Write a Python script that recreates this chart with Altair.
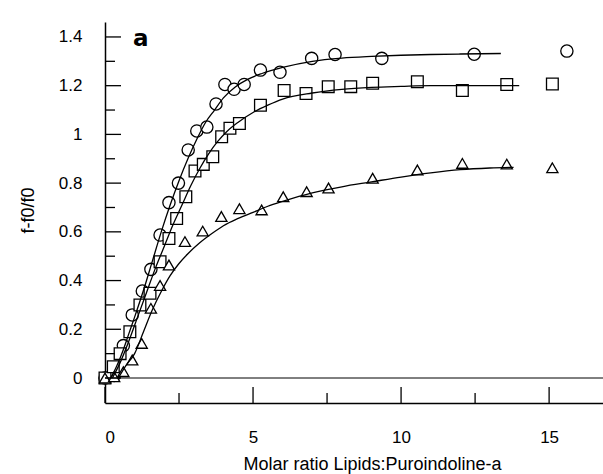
import altair as alt
import pandas as pd

# ---- data ----
circ_x = [0.0, 0.31, 0.62, 0.92, 1.26, 1.55, 1.86, 2.16, 2.48, 2.81, 3.10, 3.44, 3.75, 4.05, 4.36, 4.70, 5.25, 5.91, 6.98, 7.77, 9.35, 12.47, 15.6]
circ_y = [0.0, 0.01, 0.133, 0.259, 0.357, 0.446, 0.587, 0.72, 0.80, 0.936, 1.014, 1.03, 1.125, 1.205, 1.185, 1.205, 1.264, 1.255, 1.312, 1.328, 1.312, 1.329, 1.342]

sq_x = [0.0, 0.28, 0.51, 0.84, 1.18, 1.52, 1.86, 2.16, 2.42, 2.73, 3.04, 3.32, 3.64, 3.94, 4.22, 4.54, 5.25, 6.05, 6.79, 7.54, 8.30, 9.04, 10.55, 12.07, 13.57, 15.11]
sq_y = [0.0, 0.046, 0.10, 0.19, 0.30, 0.348, 0.477, 0.573, 0.655, 0.744, 0.85, 0.877, 0.908, 0.99, 1.025, 1.045, 1.12, 1.18, 1.168, 1.196, 1.196, 1.21, 1.216, 1.18, 1.205, 1.207]

tri_x = [0.0, 0.31, 0.62, 0.92, 1.24, 1.55, 1.86, 2.16, 2.70, 3.30, 3.93, 4.54, 5.29, 6.02, 6.81, 7.55, 9.04, 10.55, 12.07, 13.57, 15.11]
tri_y = [0.0, 0.005, 0.026, 0.074, 0.142, 0.286, 0.38, 0.464, 0.56, 0.603, 0.663, 0.695, 0.69, 0.744, 0.765, 0.78, 0.82, 0.854, 0.881, 0.878, 0.863]

# fitted curves
fit_c_x = [0.2, 0.4, 0.6, 0.8, 1.0, 1.3, 1.6, 1.9, 2.2, 2.5, 2.8, 3.1, 3.4, 3.7, 4.0, 4.4, 4.8, 5.3, 6.0, 7.0, 8.0, 9.0, 10.0, 11.0, 12.0, 13.37]
fit_c_y = [0.0, 0.05, 0.11, 0.18, 0.25, 0.36, 0.48, 0.60, 0.71, 0.81, 0.90, 0.98, 1.05, 1.10, 1.15, 1.195, 1.225, 1.25, 1.275, 1.30, 1.313, 1.32, 1.325, 1.328, 1.33, 1.332]
fit_s_x = [0.25, 0.5, 0.8, 1.1, 1.4, 1.7, 2.0, 2.3, 2.6, 2.9, 3.2, 3.5, 3.8, 4.1, 4.5, 5.0, 5.5, 6.0, 7.0, 8.0, 9.0, 10.0, 11.0, 12.0, 13.0, 13.99]
fit_s_y = [0.0, 0.06, 0.15, 0.25, 0.35, 0.45, 0.54, 0.63, 0.71, 0.79, 0.86, 0.92, 0.97, 1.01, 1.05, 1.09, 1.12, 1.145, 1.17, 1.185, 1.193, 1.197, 1.2, 1.2, 1.2, 1.2]
fit_t_x = [0.45, 0.7, 1.0, 1.3, 1.6, 1.9, 2.2, 2.5, 2.8, 3.2, 3.6, 4.0, 4.5, 5.0, 5.5, 6.0, 7.0, 8.0, 9.0, 10.0, 11.0, 12.0, 13.0, 13.8]
fit_t_y = [0.0, 0.05, 0.10, 0.19, 0.28, 0.355, 0.42, 0.47, 0.51, 0.555, 0.592, 0.625, 0.655, 0.68, 0.705, 0.725, 0.76, 0.785, 0.805, 0.825, 0.842, 0.855, 0.862, 0.865]

x_major = [0, 5, 10, 15]
x_minor = [2.5, 7.5, 12.5]
y_major = [0, 0.2, 0.4, 0.6, 0.8, 1.0, 1.2, 1.4]
y_minor = [0.1, 0.3, 0.5, 0.7, 0.9, 1.1, 1.3]

# ---- tables ----
pts = pd.concat([
    pd.DataFrame({"x": circ_x, "y": circ_y, "s": "c"}),
    pd.DataFrame({"x": sq_x, "y": sq_y, "s": "s"}),
    pd.DataFrame({"x": tri_x, "y": tri_y, "s": "t"}),
], ignore_index=True)
fits = pd.concat([
    pd.DataFrame({"x": fit_c_x, "y": fit_c_y, "s": "c"}),
    pd.DataFrame({"x": fit_s_x, "y": fit_s_y, "s": "s"}),
    pd.DataFrame({"x": fit_t_x, "y": fit_t_y, "s": "t"}),
], ignore_index=True)

W, H = 498, 381
FONT = "Liberation Sans"
XT = "Molar ratio Lipids:Puroindoline-a"
YT = "f-f0/f0"
xs = alt.Scale(domain=[0, 16.82], nice=False, zero=False)
ys = alt.Scale(domain=[-0.1026, 1.4614], nice=False, zero=False)

x_axis = alt.Axis(
    values=x_major, format="d", ticks=False, tickSize=0, grid=False,
    domainColor="black", domainWidth=1.5,
    labelFont=FONT, labelFontSize=17, labelColor="black", labelPadding=26,
    titleFont=FONT, titleFontSize=18, titleFontWeight="normal", titleColor="black",
    titleBaseline="alphabetic", titleAlign="center", titleX=267, titleY=66,
)
y_axis = alt.Axis(
    values=y_major, format=".1~f", ticks=False, tickSize=0, grid=False,
    domainColor="black", domainWidth=1.5,
    labelFont=FONT, labelFontSize=17, labelColor="black", labelPadding=23,
    titleFont=FONT, titleFontSize=18, titleFontWeight="normal", titleColor="black",
    titleAngle=-90, titleX=-77, titleY=188, titleAlign="center", titleBaseline="middle",
)

points = alt.Chart(pts).mark_point(filled=True, fill="white", stroke="black", strokeWidth=1.3, opacity=1).encode(
    x=alt.X("x:Q", scale=xs, axis=x_axis, title=XT),
    y=alt.Y("y:Q", scale=ys, axis=y_axis, title=YT),
    shape=alt.Shape("s:N", scale=alt.Scale(domain=["c", "s", "t"], range=["circle", "square", "triangle-up"]), legend=None),
    size=alt.Size("s:N", scale=alt.Scale(domain=["c", "s", "t"], range=[150, 125, 155]), legend=None),
)

lines = alt.Chart(fits).mark_line(color="black", strokeWidth=1.3, interpolate="monotone").encode(
    x=alt.X("x:Q", scale=xs, title=XT),
    y=alt.Y("y:Q", scale=ys, title=YT),
    detail="s:N",
)

zero_line = alt.Chart(pd.DataFrame({"y": [0]})).mark_rule(color="black", strokeWidth=1).encode(
    y=alt.Y("y:Q", scale=ys, title=YT)
)

xt_major = alt.Chart(pd.DataFrame({"x": x_major})).mark_rule(color="black", strokeWidth=1.3).encode(
    x=alt.X("x:Q", scale=xs, title=XT), y=alt.value(H), y2=alt.value(H - 16))
xt_minor = alt.Chart(pd.DataFrame({"x": x_minor})).mark_rule(color="black", strokeWidth=1.3).encode(
    x=alt.X("x:Q", scale=xs, title=XT), y=alt.value(H), y2=alt.value(H - 10))
yt_major = alt.Chart(pd.DataFrame({"y": y_major})).mark_rule(color="black", strokeWidth=1.3).encode(
    y=alt.Y("y:Q", scale=ys, title=YT), x=alt.value(0), x2=alt.value(16))
yt_minor = alt.Chart(pd.DataFrame({"y": y_minor})).mark_rule(color="black", strokeWidth=1.3).encode(
    y=alt.Y("y:Q", scale=ys, title=YT), x=alt.value(0), x2=alt.value(10))

panel = alt.Chart(pd.DataFrame({"t": ["a"]})).mark_text(
    font="DejaVu Sans", fontSize=23, fontWeight="bold", align="left", baseline="middle", color="black"
).encode(text="t:N", x=alt.value(28), y=alt.value(17))

chart = alt.layer(points, zero_line, lines, xt_major, xt_minor, yt_major, yt_minor, panel).properties(
    width=W, height=H,
    autosize=alt.AutoSizeParams(type="none"),
    padding={"left": 105, "top": 22, "right": 0, "bottom": 71},
    background="white",
).configure_view(stroke=None)

chart.save("out.html", embed_options={"renderer": "svg", "actions": False})
